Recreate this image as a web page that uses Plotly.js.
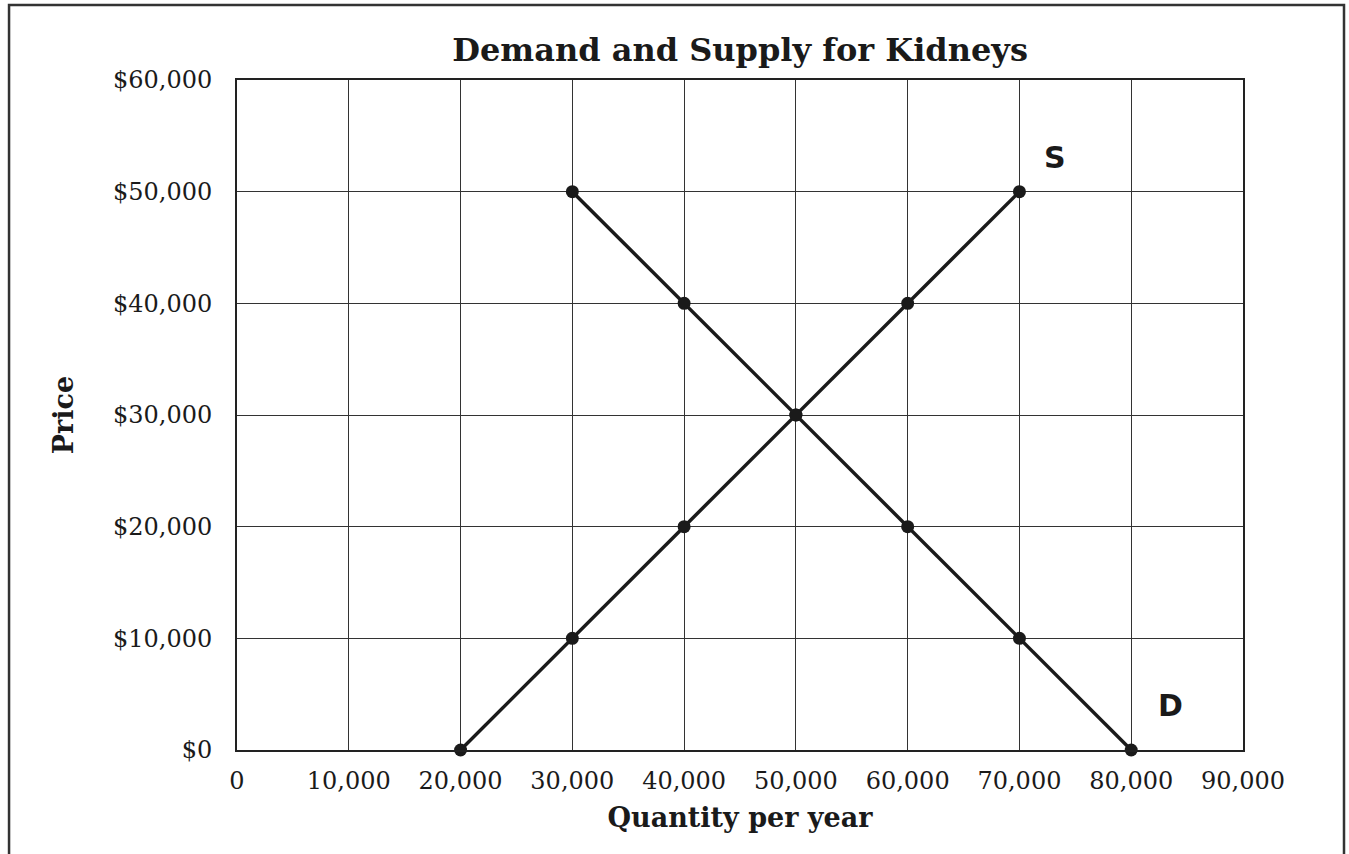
<!DOCTYPE html>
<html>
<head>
<meta charset="utf-8">
<script src="https://cdn.plot.ly/plotly-3.0.1.min.js"></script>
<style>html,body{margin:0;padding:0;background:#fff;}#chart{width:1349px;height:854px;}</style>
</head>
<body>
<div id="chart"></div>
<script>
const supplyQty = [20000, 30000, 40000, 50000, 60000, 70000];
const supplyPrice = [0, 10000, 20000, 30000, 40000, 50000];
const demandQty = [30000, 40000, 50000, 60000, 70000, 80000];
const demandPrice = [50000, 40000, 30000, 20000, 10000, 0];
const xTicks = [0, 10000, 20000, 30000, 40000, 50000, 60000, 70000, 80000, 90000];
const xTickText = ["0", "10,000", "20,000", "30,000", "40,000", "50,000", "60,000", "70,000", "80,000", "90,000"];
const yTicks = [0, 10000, 20000, 30000, 40000, 50000, 60000];
const yTickText = ["$0", "$10,000", "$20,000", "$30,000", "$40,000", "$50,000", "$60,000"];
const curveLabels = [
  {text: "S", x: 73200, y: 53100},
  {text: "D", x: 83500, y: 4000}
];

const serif = "DejaVu Serif, Liberation Serif, serif";
const lineStyle = {color: "#1a1a1a", width: 3.5};
const markerStyle = {color: "#1a1a1a", size: 13};

const traces = [
  {x: supplyQty, y: supplyPrice, mode: "lines+markers", line: lineStyle, marker: markerStyle, name: "Supply", cliponaxis: false},
  {x: demandQty, y: demandPrice, mode: "lines+markers", line: lineStyle, marker: markerStyle, name: "Demand", cliponaxis: false}
];

const layout = {
  width: 1349, height: 854,
  margin: {l: 237, r: 106, t: 80, b: 104},
  paper_bgcolor: "#fff", plot_bgcolor: "#fff",
  showlegend: false,
  title: {
    text: "<b>Demand and Supply for Kidneys</b>",
    font: {family: serif, size: 32, color: "#1a1a1a"},
    x: 0.5486, xanchor: "center", y: 0.9415, yanchor: "middle"
  },
  xaxis: {
    range: [0, 90000], tickvals: xTicks, ticktext: xTickText,
    showgrid: true, gridcolor: "#333", gridwidth: 1,
    showline: true, linecolor: "#222", linewidth: 2, mirror: true,
    zeroline: false, ticks: "", ticklabelstandoff: 8,
    tickfont: {family: serif, size: 24, color: "#1a1a1a"},
    title: {text: "<b>Quantity per year</b>", font: {family: serif, size: 27, color: "#1a1a1a"}, standoff: 14},
    fixedrange: true
  },
  yaxis: {
    range: [0, 60000], tickvals: yTicks, ticktext: yTickText,
    showgrid: true, gridcolor: "#333", gridwidth: 1,
    showline: true, linecolor: "#222", linewidth: 2, mirror: true,
    zeroline: false, ticks: "", ticklabelstandoff: 18,
    tickfont: {family: serif, size: 24, color: "#1a1a1a"},
    title: {text: "<b>Price</b>", font: {family: serif, size: 27, color: "#1a1a1a"}, standoff: 32},
    fixedrange: true
  },
  annotations: curveLabels.map(l => ({
    text: "<b>" + l.text + "</b>", x: l.x, y: l.y, xref: "x", yref: "y",
    showarrow: false, xanchor: "center", yanchor: "middle",
    font: {family: "DejaVu Sans, Liberation Sans, sans-serif", size: 30, color: "#1a1a1a"}
  })),
  shapes: [{
    type: "rect", xref: "paper", yref: "paper",
    x0: -0.2266, x1: 1.1004, y0: -0.25, y1: 1.1119,
    line: {color: "#333", width: 2.5}, fillcolor: "rgba(0,0,0,0)", layer: "below"
  }]
};

Plotly.newPlot("chart", traces, layout, {displayModeBar: false, staticPlot: true});
</script>
</body>
</html>
